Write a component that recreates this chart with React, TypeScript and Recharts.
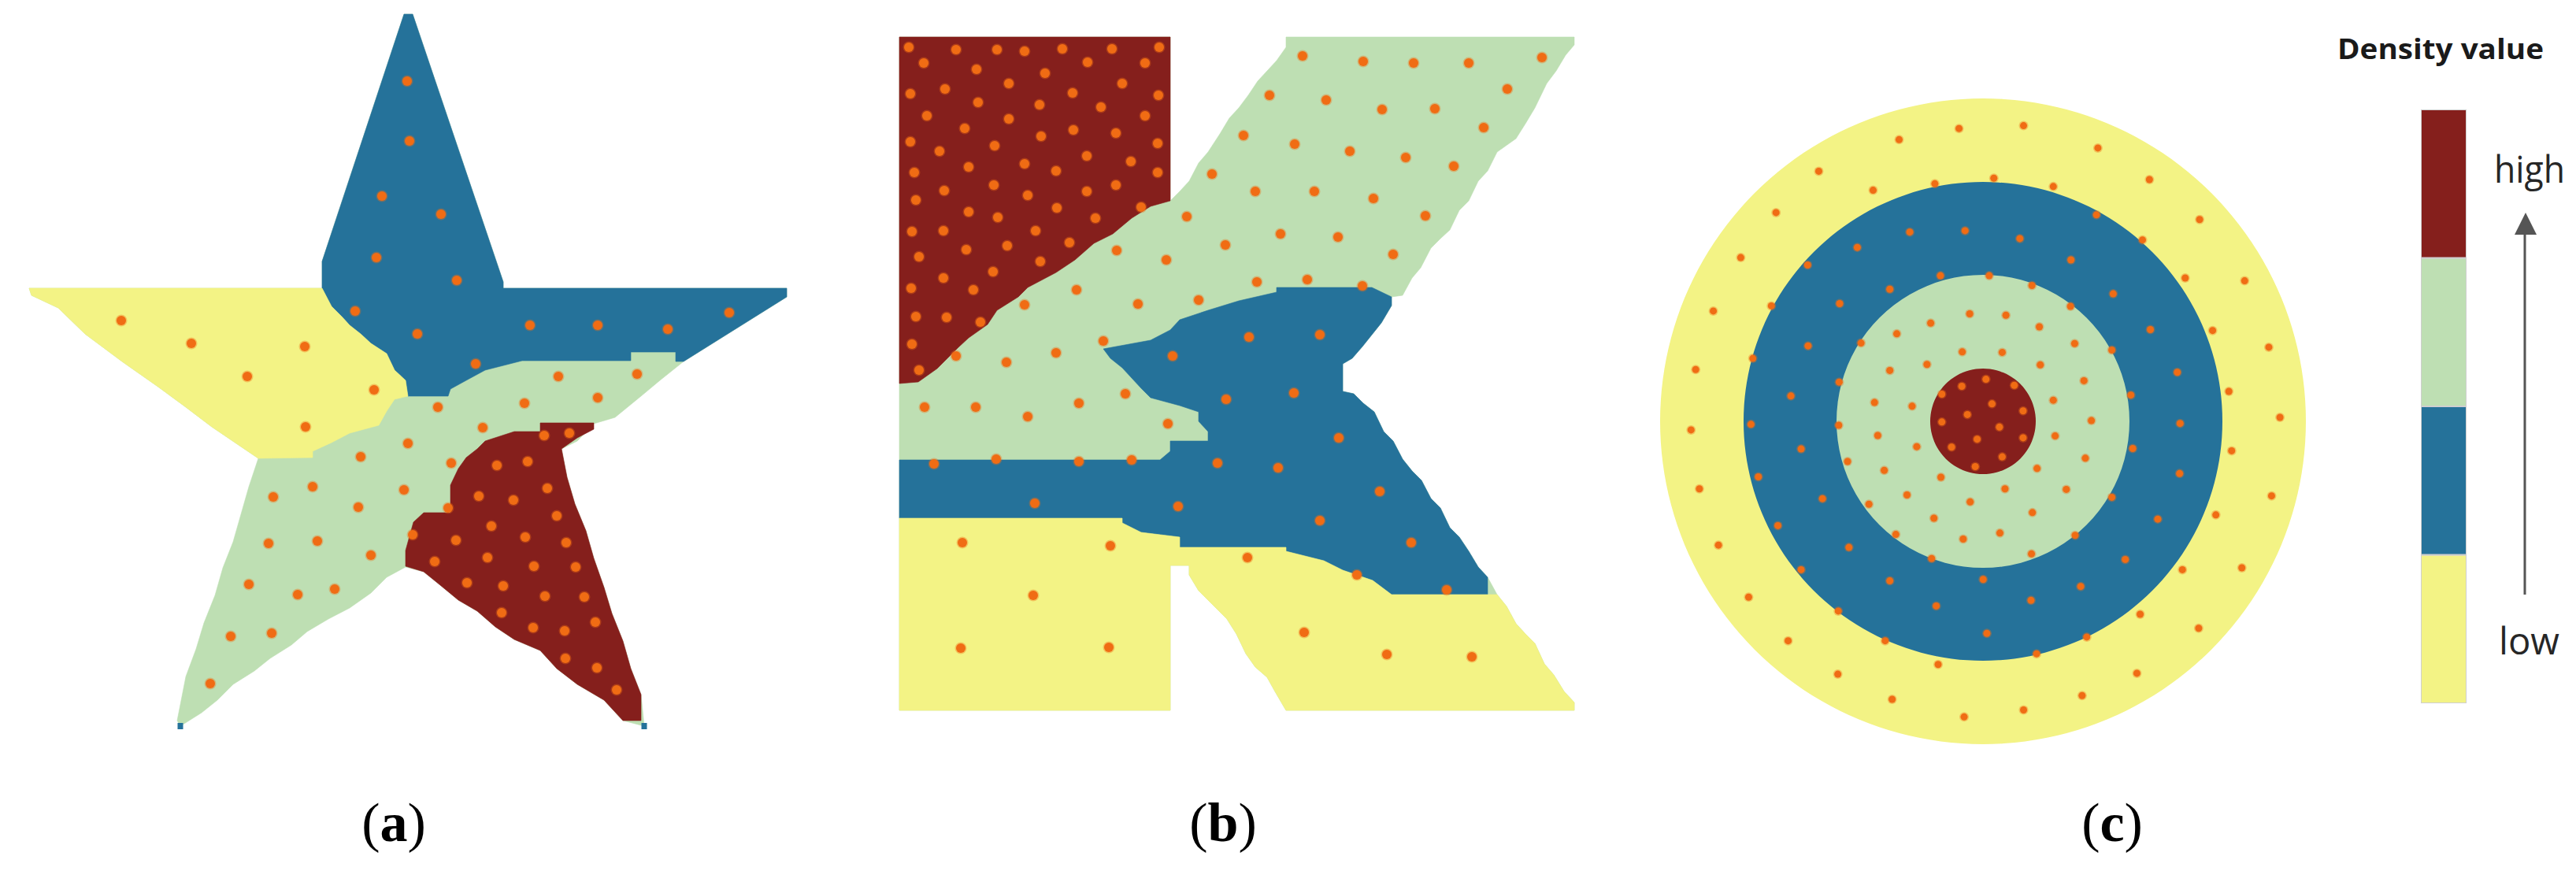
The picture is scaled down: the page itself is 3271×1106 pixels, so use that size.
import React from 'react';
import { ScatterChart, Scatter, XAxis, YAxis, PieChart, Pie, BarChart, Bar } from 'recharts';

type P = [number, number];

// ---------- colours ----------
const COLORS: Record<string, string> = {
  low: '#f3f385',
  midLow: '#25729a',
  midHigh: '#bedfb3',
  high: '#851f1c',
  dot: '#f06c14',
};

// ---------- panel (a): star (image pixel units) ----------
const starOutline: P[] = [
  [513, 18], [524, 18], [639, 358], [639, 366], [999, 366], [999, 377], [868, 459], [838, 483], [814, 503], [781, 530],
  [754, 538], [733, 560], [713, 570], [720, 606], [730, 640], [744, 674], [754, 709], [767, 746], [777, 779], [791, 814],
  [801, 849], [814, 882], [818, 922], [791, 915], [767, 889], [733, 869], [707, 849], [686, 826], [653, 812], [629, 796],
  [606, 776], [582, 762], [559, 743], [538, 726], [515, 720], [491, 733], [471, 753], [444, 772], [417, 786], [390, 802],
  [370, 819], [343, 836], [323, 852], [296, 869], [276, 889], [256, 905], [229, 922], [225, 915], [236, 859], [249, 824],
  [259, 791], [273, 756], [283, 721], [296, 688], [306, 653], [316, 618], [328, 582], [269, 542], [236, 517], [202, 492],
  [155, 459], [108, 424], [74, 391], [40, 375], [37, 366], [409, 366], [409, 332],
];
const starBlue: P[] = [
  [513, 18], [524, 18], [639, 358], [639, 366], [999, 366], [999, 377], [868, 459], [858, 459], [858, 447], [801, 447],
  [801, 458], [663, 458], [616, 470], [592, 483], [572, 494], [569, 503], [518, 503], [515, 483], [501, 470], [491, 449],
  [471, 436], [458, 424], [444, 413], [434, 402], [421, 389], [409, 366], [409, 332],
];
const starYellow: P[] = [
  [37, 366], [409, 366], [421, 389], [434, 402], [444, 413], [458, 424], [471, 436], [491, 449], [501, 470], [515, 483],
  [518, 503], [501, 507], [491, 522], [481, 540], [444, 550], [421, 562], [397, 573], [397, 581], [328, 582], [269, 542],
  [236, 517], [202, 492], [155, 459], [108, 424], [74, 391], [40, 375],
];
const starRed: P[] = [
  [686, 537], [754, 537], [754, 545], [733, 556], [713, 570], [720, 606], [730, 640], [744, 674], [754, 709], [767, 746],
  [777, 779], [791, 814], [801, 849], [814, 882], [814, 915], [791, 915], [767, 889], [733, 869], [707, 849], [686, 826],
  [653, 812], [629, 796], [606, 776], [582, 762], [559, 743], [538, 726], [515, 719], [515, 699], [525, 663], [538, 651],
  [572, 651], [572, 616], [582, 595], [592, 581], [606, 570], [616, 560], [653, 548], [686, 548],
];
const starTips: P[] = [[229, 922], [818, 922]];
const starDots: P[] = [
  [517, 103], [520, 179], [485, 249], [560, 272], [478, 327], [580, 356], [451, 395], [530, 424], [673, 413], [759, 413],
  [848, 418], [926, 397], [604, 462], [154, 407], [243, 436], [387, 440], [314, 478], [475, 495], [388, 542], [709, 478],
  [809, 475], [666, 512], [759, 505], [556, 517], [613, 543], [518, 563], [458, 580], [573, 588], [397, 618], [347, 631],
  [513, 622], [455, 644], [341, 690], [403, 687], [471, 705], [524, 679], [316, 742], [378, 755], [425, 748], [293, 808],
  [345, 804], [267, 868], [691, 553], [723, 550], [631, 591], [670, 586], [569, 645], [608, 630], [652, 635], [695, 620],
  [707, 655], [624, 668], [579, 686], [667, 682], [719, 689], [552, 713], [619, 708], [678, 719], [731, 720], [593, 740],
  [639, 744], [692, 757], [742, 758], [637, 778], [677, 797], [717, 801], [756, 790], [718, 836], [758, 848], [783, 876],
];

// ---------- panel (b): K (image pixel units) ----------
const kOutline: P[] = [
  [1142, 47], [1486, 47], [1486, 255], [1498, 243], [1510, 230], [1522, 207], [1534, 193], [1549, 170], [1561, 150], [1573, 137],
  [1585, 121], [1597, 103], [1609, 90], [1621, 77], [1633, 60], [1633, 47], [1999, 47], [1999, 57], [1988, 70], [1976, 90],
  [1964, 106], [1949, 137], [1937, 157], [1925, 176], [1901, 193], [1889, 217], [1877, 230], [1865, 255], [1853, 267], [1841, 292],
  [1829, 303], [1817, 315], [1804, 340], [1793, 353], [1781, 375], [1767, 377], [1767, 388], [1754, 410], [1742, 425], [1730, 440],
  [1717, 455], [1705, 462], [1705, 497], [1719, 500], [1731, 512], [1745, 523], [1757, 548], [1769, 560], [1781, 583], [1793, 598],
  [1805, 610], [1817, 633], [1829, 645], [1841, 670], [1853, 682], [1865, 700], [1877, 720], [1889, 733], [1901, 755], [1913, 770],
  [1925, 792], [1937, 805], [1949, 817], [1961, 843], [1973, 857], [1986, 878], [1999, 892], [1999, 902], [1633, 902], [1619, 878],
  [1609, 860], [1594, 847], [1582, 830], [1570, 805], [1558, 786], [1546, 774], [1534, 762], [1522, 750], [1510, 730], [1510, 718],
  [1486, 718], [1486, 902], [1142, 902],
];
const kRed: P[] = [
  [1142, 47], [1486, 47], [1486, 255], [1461, 262], [1437, 277], [1413, 297], [1389, 309], [1365, 330], [1341, 346], [1305, 365],
  [1293, 377], [1266, 394], [1254, 412], [1230, 429], [1217, 441], [1190, 468], [1166, 485], [1142, 487],
];
const kBlue: P[] = [
  [1621, 365], [1742, 365], [1767, 377], [1767, 388], [1754, 410], [1742, 425], [1730, 440], [1717, 455], [1705, 462], [1705, 497],
  [1719, 500], [1731, 512], [1745, 523], [1757, 548], [1769, 560], [1781, 583], [1793, 598], [1805, 610], [1817, 633], [1829, 645],
  [1841, 670], [1853, 682], [1865, 700], [1877, 720], [1889, 733], [1889, 755], [1767, 755], [1743, 737], [1705, 724], [1681, 712],
  [1633, 700], [1633, 695], [1498, 695], [1498, 682], [1449, 676], [1425, 664], [1425, 658], [1142, 658], [1142, 584], [1473, 584],
  [1486, 573], [1486, 560], [1534, 560], [1534, 548], [1522, 535], [1522, 523], [1498, 515], [1461, 505], [1449, 493], [1437, 480],
  [1425, 467], [1410, 455], [1401, 443], [1461, 432], [1486, 419], [1498, 406], [1534, 394], [1573, 382], [1621, 371],
];
const kYellow: P[] = [
  [1142, 658], [1425, 658], [1425, 664], [1449, 676], [1498, 682], [1498, 695], [1633, 695], [1633, 700], [1681, 712], [1705, 724],
  [1743, 737], [1767, 755], [1901, 755], [1913, 770], [1925, 792], [1937, 805], [1949, 817], [1961, 843], [1973, 857], [1986, 878],
  [1999, 892], [1999, 902], [1633, 902], [1619, 878], [1609, 860], [1594, 847], [1582, 830], [1570, 805], [1558, 786], [1546, 774],
  [1534, 762], [1522, 750], [1510, 730], [1510, 718], [1486, 718], [1486, 902], [1142, 902],
];
const kDots: P[] = [
  [1154, 60], [1214, 63], [1266, 63], [1301, 65], [1349, 62], [1412, 62], [1472, 60], [1173, 80], [1240, 88], [1327, 93],
  [1381, 79], [1454, 80], [1281, 106], [1425, 106], [1156, 119], [1200, 113], [1362, 118], [1471, 121], [1242, 130], [1320, 133],
  [1398, 136], [1177, 147], [1281, 151], [1454, 147], [1225, 163], [1363, 165], [1322, 173], [1417, 169], [1156, 180], [1193, 192],
  [1263, 185], [1470, 182], [1380, 198], [1436, 205], [1301, 208], [1230, 212], [1161, 219], [1341, 217], [1470, 219], [1262, 235],
  [1417, 235], [1199, 242], [1305, 248], [1380, 243], [1163, 254], [1230, 269], [1342, 264], [1267, 276], [1391, 277], [1449, 263],
  [1158, 294], [1198, 293], [1315, 293], [1227, 317], [1279, 312], [1358, 308], [1167, 326], [1321, 332], [1198, 353], [1261, 345],
  [1157, 366], [1236, 368], [1163, 402], [1202, 403], [1245, 409], [1158, 437], [1167, 470], [1214, 452],
  [1654, 71], [1731, 78], [1795, 80], [1865, 80], [1958, 73], [1914, 113], [1612, 121], [1684, 127], [1755, 139], [1822, 138],
  [1884, 162], [1579, 172], [1644, 183], [1714, 192], [1785, 200], [1846, 211], [1539, 221], [1594, 243], [1669, 243], [1744, 252],
  [1810, 274], [1507, 275], [1626, 297], [1699, 301], [1556, 311], [1418, 318], [1481, 330], [1769, 323], [1596, 358], [1660, 355],
  [1730, 363], [1367, 368], [1301, 387], [1445, 386], [1522, 381], [1401, 433], [1341, 448], [1278, 460], [1429, 500], [1370, 512],
  [1174, 517], [1239, 517], [1305, 529], [1483, 538], [1186, 589], [1265, 583], [1370, 586], [1437, 584],
  [1586, 428], [1676, 425], [1489, 452], [1557, 507], [1643, 499], [1700, 556], [1546, 588], [1623, 594], [1752, 624], [1314, 639],
  [1496, 643], [1676, 661], [1792, 689], [1723, 730], [1837, 749],
  [1222, 689], [1410, 693], [1584, 708], [1312, 756], [1656, 803], [1761, 831], [1869, 834], [1220, 823], [1408, 822],
];

// ---------- panel (c): rings (local units 0..1560) ----------
const ringLevels = ['low', 'midLow', 'midHigh', 'high'];
const ringValue = [{ value: 1 }];
const circleDots: P[] = [
  [725, 141], [864, 135], [596, 165], [1024, 183], [423, 233], [1135, 251], [800, 248], [540, 274], [673, 260], [928, 266],
  [331, 322], [1243, 337], [1021, 327], [619, 364], [738, 361], [856, 378], [1120, 381], [506, 397], [255, 419], [399, 435],
  [966, 424], [685, 458], [790, 458], [1212, 463], [1340, 469], [576, 487], [882, 479], [1057, 497], [468, 518], [321, 523],
  [965, 524], [196, 534], [748, 540], [826, 543], [664, 560], [898, 568], [1137, 574], [1271, 576], [591, 583], [514, 603],
  [974, 604], [400, 609], [1392, 612], [1054, 618], [732, 622], [818, 623], [281, 636], [656, 649], [900, 650], [158, 660],
  [576, 662], [1195, 666], [994, 684], [467, 687], [783, 681], [844, 694], [731, 696], [688, 713], [1306, 707], [363, 717],
  [1095, 715], [928, 726], [543, 731], [796, 734], [624, 739], [863, 749], [743, 757], [1416, 763], [277, 778], [466, 780],
  [688, 773], [1201, 776], [1010, 770], [812, 784], [148, 790], [550, 802], [932, 803], [863, 807], [764, 810], [634, 826],
  [709, 827], [385, 831], [1099, 830], [1312, 835], [818, 848], [997, 851], [485, 858], [564, 877], [760, 869], [893, 873],
  [293, 891], [1200, 884], [686, 892], [166, 917], [824, 917], [956, 918], [613, 930], [1398, 932], [431, 938], [1054, 935],
  [749, 945], [531, 950], [883, 968], [671, 980], [1278, 973], [1153, 982], [335, 996], [589, 1015], [813, 1012], [975, 1017],
  [734, 1025], [207, 1038], [488, 1043], [881, 1057], [666, 1067], [1083, 1069], [1334, 1087], [385, 1091], [1206, 1091], [576, 1115],
  [777, 1112], [987, 1127], [272, 1150], [880, 1157], [676, 1169], [465, 1180], [1115, 1187], [1241, 1217], [785, 1228], [1000, 1236],
  [357, 1244], [566, 1244], [892, 1272], [680, 1295], [464, 1316], [1108, 1314], [990, 1362], [581, 1370], [864, 1393], [736, 1408],
];

// ---------- legend ----------
const legendLevels = ['low', 'midLow', 'midHigh', 'high'];
const legendRow = [{ name: 'density', low: 1, midLow: 1, midHigh: 1, high: 1 }];
const legendTitle = 'Density value';
const legendHigh = 'high';
const legendLow = 'low';
const panelLabels = ['a', 'b', 'c'];

// ---------- helpers ----------
const toPts = (arr: P[]) => arr.map(([x, y]) => ({ x, y }));
const polygonLine = (fill: string) => (props: any) => {
  const pts: { x: number; y: number }[] = props.points || [];
  const d = pts.map((p, i) => `${i ? 'L' : 'M'}${p.x},${p.y}`).join('') + 'Z';
  return <path d={d} fill={fill} stroke={fill} strokeWidth={0.6} />;
};
const noShape = () => <g />;
const dotShape = (r: number) => (props: any) => (
  <g>
    <circle cx={props.cx} cy={props.cy} r={r + 1.5} fill={COLORS.dot} opacity={0.35} />
    <circle cx={props.cx} cy={props.cy} r={r} fill={COLORS.dot} />
  </g>
);
const tipShape = (props: any) => (
  <rect x={props.cx - 3.5} y={props.cy - 4} width={7} height={8} fill={COLORS.midLow} />
);

const AB_W = 2040;
const AB_H = 960;

export default function App() {
  const polys: { data: P[]; fill: string }[] = [
    { data: starOutline, fill: COLORS.midHigh },
    { data: starBlue, fill: COLORS.midLow },
    { data: starYellow, fill: COLORS.low },
    { data: starRed, fill: COLORS.high },
    { data: kOutline, fill: COLORS.midHigh },
    { data: kRed, fill: COLORS.high },
    { data: kBlue, fill: COLORS.midLow },
    { data: kYellow, fill: COLORS.low },
  ];
  const ringRadius = [410, 304, 186, 67];
  return (
    <div style={{ position: 'absolute', left: 0, top: 0, width: 3271, height: 1106, background: '#fff', overflow: 'hidden' }}>
      {/* panels a and b */}
      <div style={{ position: 'absolute', left: 0, top: 0 }}>
        <ScatterChart width={AB_W} height={AB_H} margin={{ top: 0, right: 0, bottom: 0, left: 0 }}>
          <XAxis type="number" dataKey="x" domain={[0, AB_W]} allowDataOverflow hide />
          <YAxis type="number" dataKey="y" domain={[0, AB_H]} allowDataOverflow reversed hide />
          {polys.map((p, i) => (
            <Scatter
              key={i}
              data={toPts(p.data)}
              line={polygonLine(p.fill)}
              lineType="joint"
              shape={noShape}
              isAnimationActive={false}
            />
          ))}
          <Scatter data={toPts(starTips)} shape={tipShape} isAnimationActive={false} />
          <Scatter data={toPts(starDots)} shape={dotShape(6)} isAnimationActive={false} />
          <Scatter data={toPts(kDots)} shape={dotShape(6)} isAnimationActive={false} />
        </ScatterChart>
      </div>

      {/* panel c rings */}
      <div style={{ position: 'absolute', left: 2060, top: 80 }}>
        <PieChart width={920} height={920} margin={{ top: 0, right: 0, bottom: 0, left: 0 }}>
          {ringLevels.map((lvl, i) => (
            <Pie
              key={lvl}
              data={ringValue}
              dataKey="value"
              cx={458}
              cy={455}
              innerRadius={0}
              outerRadius={ringRadius[i]}
              startAngle={90}
              endAngle={-270}
              fill={COLORS[lvl]}
              stroke="none"
              label={false}
              labelLine={false}
              isAnimationActive={false}
            />
          ))}
        </PieChart>
      </div>
      <div style={{ position: 'absolute', left: 2060, top: 80 }}>
        <ScatterChart width={920} height={920} margin={{ top: 0, right: 0, bottom: 0, left: 0 }}>
          <XAxis type="number" dataKey="x" domain={[0, 1560]} allowDataOverflow hide />
          <YAxis type="number" dataKey="y" domain={[0, 1560]} allowDataOverflow reversed hide />
          <Scatter data={toPts(circleDots)} shape={dotShape(4.5)} isAnimationActive={false} />
        </ScatterChart>
      </div>

      {/* colour bar legend */}
      <div style={{ position: 'absolute', left: 3074, top: 139 }}>
        <BarChart width={58} height={754} data={legendRow} margin={{ top: 0, right: 0, bottom: 0, left: 0 }} barCategoryGap={0}>
          <XAxis dataKey="name" type="category" hide />
          <YAxis type="number" domain={[0, 4]} hide />
          {legendLevels.map((lvl) => (
            <Bar key={lvl} dataKey={lvl} stackId="s" fill={COLORS[lvl]} stroke="#cfcfcf" strokeWidth={2} isAnimationActive={false} />
          ))}
        </BarChart>
      </div>

      {/* texts */}
      <svg width={3271} height={1106} style={{ position: 'absolute', left: 0, top: 0, pointerEvents: 'none' }}>
        <text x={2968} y={75} fontFamily="'Open Sans', sans-serif" fontWeight={700} fontSize={36} fill="#1a1a1a" textLength={262} lengthAdjust="spacingAndGlyphs">
          {legendTitle}
        </text>
        <text x={3167} y={232} fontFamily="'Open Sans', sans-serif" fontSize={48} fill="#262626" textLength={90} lengthAdjust="spacingAndGlyphs">
          {legendHigh}
        </text>
        <text x={3173} y={831} fontFamily="'Open Sans', sans-serif" fontSize={48} fill="#262626" textLength={77} lengthAdjust="spacingAndGlyphs">
          {legendLow}
        </text>
        <line x1={3206} y1={755} x2={3206} y2={292} stroke="#555" strokeWidth={3} />
        <polygon points="3207,270 3193,298 3221,298" fill="#555" />
        {panelLabels.map((l, i) => (
          <text key={l} x={[500, 1553, 2682][i]} y={1068} textAnchor="middle" fontFamily="'Liberation Serif', 'Times New Roman', serif" fontSize={70} fill="#000">
            (<tspan fontWeight={700}>{l}</tspan>)
          </text>
        ))}
      </svg>
    </div>
  );
}
